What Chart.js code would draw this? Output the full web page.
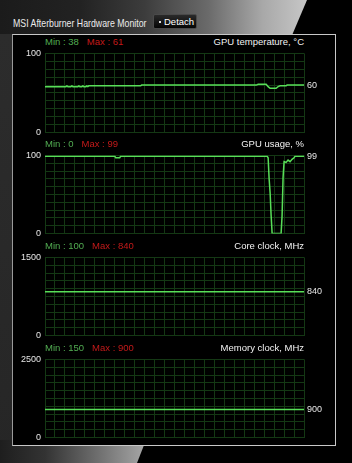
<!DOCTYPE html>
<html>
<head>
<meta charset="utf-8">
<script src="https://cdn.jsdelivr.net/npm/chart.js@4/dist/chart.umd.min.js"></script>
<style>
  html, body { margin: 0; padding: 0; width: 352px; height: 463px; overflow: hidden; background: #000;
               font-family: "Liberation Sans", Arial, sans-serif; }
  .topband { position: absolute; left: 0; top: 0; width: 320px; height: 40px;
             background: linear-gradient(to right, #1b1b1b 0%, #222 25%, #3c3c3c 45%, #6a6a6a 65%, #a8a8a8 82%, #d0d0d0 100%);
             clip-path: polygon(0 0, 307px 0, 290px 40px, 0 40px); }
  .leftband { position: absolute; left: 0; top: 34px; width: 14px; height: 429px;
              background: linear-gradient(to bottom, #2c2c2c, #262626); }
  .bottomband { position: absolute; left: 0; top: 440px; width: 150px; height: 23px;
                background: linear-gradient(to right, #1e1e1e 0%, #333 30%, #6e6e6e 65%, #acacac 100%);
                clip-path: polygon(0 0, 146px 0, 137px 23px, 0 23px); }
  .wintitle { position: absolute; left: 13px; top: 16px; font-size: 10.5px; line-height: 14px; color: #ececec;
              white-space: nowrap; transform: scaleX(0.835); transform-origin: 0 50%; }
  .detach { position: absolute; left: 153px; top: 14px; width: 42px; height: 13px; border: 1px solid #4a4a4a;
            border-radius: 2px; background: linear-gradient(to bottom, #2a2a2a, #050505); }
  .detach .dot { position: absolute; left: 5px; top: 6px; width: 2px; height: 2px; background: #ddd; }
  .detach .lbl { position: absolute; left: 10px; top: 0; font-size: 9.5px; line-height: 13px; color: #fff; }
  .frame { position: absolute; left: 12px; top: 34px; width: 322px; height: 410px; background: #000;
           border: 1px solid #c8c8c8; border-left-color: #9a9a9a; }
  .stats { position: absolute; left: 45px; font-size: 9.5px; line-height: 12px; white-space: nowrap; }
  .stats .mn { color: #52ad52; }
  .stats .mx { color: #c41a1a; margin-left: 8px; }
  .ptitle { position: absolute; right: 48px; font-size: 9.5px; line-height: 12px; color: #f2f2f2; white-space: nowrap; }
  canvas { position: absolute; left: 0; }
</style>
</head>
<body>
<div class="topband"></div>
<div class="leftband"></div>
<div class="bottomband"></div>
<div class="wintitle">MSI Afterburner Hardware Monitor</div>
<div class="detach"><div class="dot"></div><div class="lbl">Detach</div></div>
<div class="frame"></div>
<div id="panels"></div>
<script>
// Monitor series: x is the sample index across the visible history window
const historyLength = 260;

const tempTime   = [0, 21, 22, 23, 26, 27, 28, 33, 34, 35, 37, 38, 39, 41, 42, 43, 44, 96, 97, 212, 214, 222, 224, 226, 232, 234, 236, 242, 243, 260];
const tempValues = [58, 58, 59, 58, 58, 59, 58, 58, 59, 58, 58, 59, 58, 58, 59, 58, 59, 59, 60, 60, 61, 61, 58, 56, 56, 58, 59, 59, 60, 60];

const usageTime   = [0, 70, 71, 75, 76, 223, 224, 225, 226, 227, 228, 237, 238, 239, 240, 242, 244, 246, 248, 250, 251, 260];
const usageValues = [99, 99, 97, 97, 99, 99, 97, 70, 52, 23, 0, 0, 23, 72, 92, 91, 94, 92, 95, 97, 99, 99];

const coreTime   = [0, 260];
const coreValues = [840, 840];

const memTime   = [0, 260];
const memValues = [900, 900];

const panelTitles = ["GPU temperature, °C", "GPU usage, %", "Core clock, MHz", "Memory clock, MHz"];
const statMin = [38, 0, 100, 150];
const statMax = [61, 99, 840, 900];
const axisMax = [100, 100, 1500, 2500];

const seriesTime = [tempTime, usageTime, coreTime, memTime];
const seriesValues = [tempValues, usageValues, coreValues, memValues];

// layout of the four stacked graphs
const plotTop = [52, 154, 256, 358];
const plotHeight = [82, 81, 81, 81];
const PAD = 8;

const FONT = '"Liberation Sans", Arial, sans-serif';
const GRID = '#143814';
const LINE = '#58de58';

// current value printed to the right of each graph
const lastValueLabel = {
  id: 'lastValueLabel',
  afterDatasetsDraw(chart) {
    const pts = chart.getDatasetMeta(0).data;
    const vals = chart.data.datasets[0].data;
    const last = pts[pts.length - 1];
    const ctx = chart.ctx;
    ctx.save();
    ctx.font = '9px ' + FONT;
    ctx.fillStyle = '#e6e6e6';
    ctx.textAlign = 'left';
    ctx.textBaseline = 'middle';
    ctx.fillText(String(vals[vals.length - 1].y), chart.chartArea.right + 3, last.y);
    ctx.restore();
  }
};

const host = document.getElementById('panels');

panelTitles.forEach((title, i) => {
  const stats = document.createElement('div');
  stats.className = 'stats';
  stats.style.top = (plotTop[i] - 16.5) + 'px';
  stats.innerHTML = '<span class="mn">Min : ' + statMin[i] + '</span><span class="mx">Max : ' + statMax[i] + '</span>';
  host.appendChild(stats);

  const t = document.createElement('div');
  t.className = 'ptitle';
  t.style.top = (plotTop[i] - 16.5) + 'px';
  t.textContent = title;
  host.appendChild(t);

  const cv = document.createElement('canvas');
  cv.width = 352;
  cv.height = plotHeight[i] + PAD * 2;
  cv.style.top = (plotTop[i] - PAD) + 'px';
  host.appendChild(cv);

  const yMax = axisMax[i];
  const points = seriesTime[i].map((x, k) => ({ x: x, y: seriesValues[i][k] }));

  new Chart(cv, {
    type: 'line',
    data: {
      datasets: [{
        data: points,
        borderColor: LINE,
        borderWidth: 1.5,
        pointRadius: 0,
        tension: 0,
        fill: false
      }]
    },
    options: {
      responsive: false,
      animation: false,
      events: [],
      layout: { padding: { left: 0, right: 48, top: PAD, bottom: PAD } },
      plugins: { legend: { display: false }, tooltip: { enabled: false } },
      scales: {
        x: {
          type: 'linear', min: 0, max: historyLength,
          ticks: { display: false, stepSize: 10 },
          grid: { color: GRID, lineWidth: 1, drawTicks: false },
          border: { display: false },
          afterFit(s) { s.height = 0; }
        },
        y: {
          min: 0, max: yMax,
          ticks: {
            stepSize: yMax / 10, autoSkip: false, padding: 4,
            color: '#e6e6e6', font: { size: 9, family: FONT },
            callback: (v) => (v === 0 || v === yMax) ? String(v) : ''
          },
          grid: { color: GRID, lineWidth: 1, drawTicks: false },
          border: { display: false },
          afterFit(s) { s.width = 45; }
        }
      }
    },
    plugins: [lastValueLabel]
  });
});
</script>
</body>
</html>
